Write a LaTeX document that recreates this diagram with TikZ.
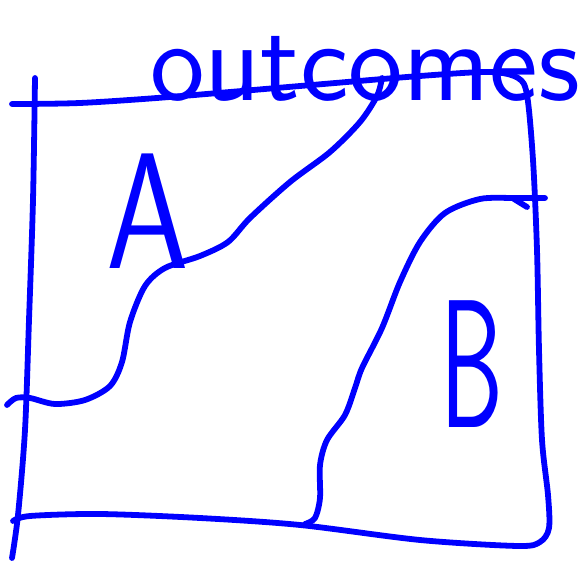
\documentclass[tikz,border=0pt]{standalone}
\usepackage{tikz}

\begin{document}
\begin{tikzpicture}[x=0.02cm,y=-0.02cm,line cap=round,line join=round,
  pen/.style={blue,line width=3.3pt},
  hand/.style={blue,inner sep=0pt}]
\useasboundingbox (0,0) rectangle (588,563);
% box
\draw[pen] plot[smooth] coordinates {(35,78) (33,200) (29,320) (25,430) (18,515) (12,558)};
\draw[pen] plot[smooth] coordinates {(12,104) (80,103) (170,97) (300,86) (420,76) (490,72) (518,78) (527,95) (533,160) (537,250) (539,350) (542,440) (548,495) (549,528) (540,542) (518,546) (420,540) (300,525) (200,518) (100,514) (30,516) (13,521)};
% outcome curves
\draw[pen] plot[smooth] coordinates {(7,405) (16,398) (30,398) (55,404) (85,400) (110,386) (122,362) (130,322) (145,286) (165,268) (200,256) (228,242) (250,218) (290,182) (330,152) (360,122) (377,96) (382,78)};
\draw[pen] plot[smooth] coordinates {(305,524) (315,518) (320,498) (320,465) (327,440) (345,415) (355,388) (362,368) (382,328) (400,282) (420,242) (445,213) (480,199) (515,198) (545,198)};
\draw[pen] (514,199) -- (527,207);
% labels
\node[hand,font=\fontsize{66}{66}\sffamily,anchor=base west] (title) at (150,101) {outcomes};
\node[hand,font=\fontsize{94}{94}\sffamily,xscale=0.8] (lblA) at (148,211) {A};
\node[hand,font=\fontsize{104}{104}\sffamily,xscale=0.55] (lblB) at (472,364) {B};
\end{tikzpicture}
\end{document}
